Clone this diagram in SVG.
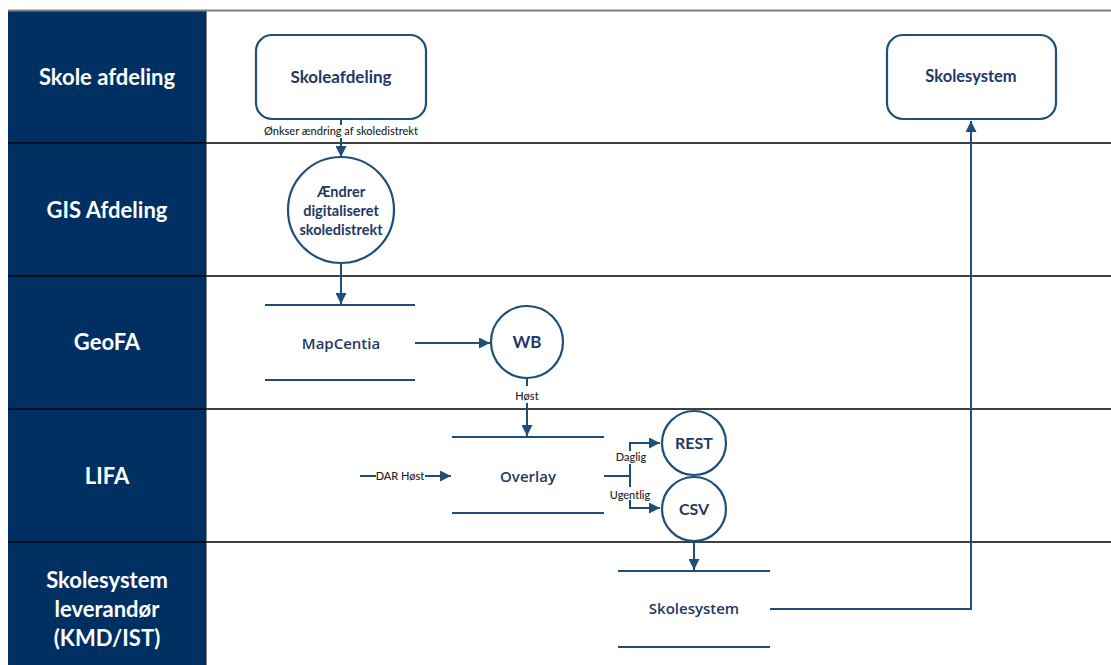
<svg xmlns="http://www.w3.org/2000/svg" width="1111" height="665" viewBox="0 0 1111 665">
<style>
.lane{fill:#003061}
.lt{font-family:Lato,"Liberation Sans",sans-serif;font-weight:bold;font-size:22px;fill:#ffffff;text-anchor:middle}
.sep{stroke:#000;stroke-width:1.5}
.shape{fill:#fff;stroke:#1f4e79;stroke-width:2.2}
.store{stroke:#1f4e79;stroke-width:2.2}
.nt{font-family:Lato,"Liberation Sans",sans-serif;font-weight:bold;fill:#1f3864;text-anchor:middle}
.st{font-family:"Open Sans","Liberation Sans",sans-serif;font-weight:600;fill:#1f3864;text-anchor:middle;font-size:15px}
.cl{font-family:Lato,"Liberation Sans",sans-serif;font-size:11px;font-weight:500;fill:#222;text-anchor:middle}
.conn{fill:none;stroke:#1f4e79;stroke-width:2}
</style>
<defs>
<marker id="ah" viewBox="0 0 10 10" refX="10" refY="5" markerWidth="5.5" markerHeight="5.5" orient="auto" markerUnits="strokeWidth">
<path d="M0,0 L10,5 L0,10 z" fill="#1f4e79"/>
</marker>
</defs>
<rect width="1111" height="665" fill="#fff"/>
<g id="lanes">
<rect class="lane" x="8" y="11" width="198" height="654"/>
<line x1="8" y1="10.5" x2="1111" y2="10.5" stroke="#808080" stroke-width="2"/>
<line class="sep" x1="8" y1="143" x2="1111" y2="143"/>
<line class="sep" x1="8" y1="276" x2="1111" y2="276"/>
<line class="sep" x1="8" y1="409" x2="1111" y2="409" stroke-width="2"/>
<line class="sep" x1="8" y1="542" x2="1111" y2="542"/>
<line x1="206" y1="11" x2="206" y2="665" stroke="#1a1a1a" stroke-width="1"/>
<text class="lt" x="107" y="85">Skole afdeling</text>
<text class="lt" x="107" y="218">GIS Afdeling</text>
<text class="lt" x="107" y="350">GeoFA</text>
<text class="lt" x="107" y="484">LIFA</text>
<text class="lt" x="107" y="588">Skolesystem</text>
<text class="lt" x="107" y="617">leverandør</text>
<text class="lt" x="107" y="646">(KMD/IST)</text>
</g>
<g id="connectors">
<line class="conn" x1="341" y1="120" x2="341" y2="125"/>
<text class="cl" x="341" y="135">Ønkser ændring af skoledistrekt</text>
<line class="conn" x1="341" y1="138" x2="341" y2="157" marker-end="url(#ah)"/>
<line class="conn" x1="341" y1="263" x2="341" y2="304" marker-end="url(#ah)"/>
<line class="conn" x1="415" y1="343" x2="490" y2="343" marker-end="url(#ah)"/>
<line class="conn" x1="527" y1="378" x2="527" y2="386"/>
<text class="cl" x="527" y="400">Høst</text>
<line class="conn" x1="527" y1="403" x2="527" y2="436" marker-end="url(#ah)"/>
<line class="conn" x1="360" y1="476" x2="376" y2="476"/>
<text class="cl" x="400" y="480">DAR Høst</text>
<line class="conn" x1="425" y1="476" x2="451" y2="476" marker-end="url(#ah)"/>
<line class="conn" x1="604" y1="476" x2="630" y2="476"/>
<polyline class="conn" points="630,451 630,443 660,443" marker-end="url(#ah)"/>
<line class="conn" x1="630" y1="464" x2="630" y2="487"/>
<polyline class="conn" points="630,500 630,508 660,508" marker-end="url(#ah)"/>
<text class="cl" x="631" y="461">Daglig</text>
<text class="cl" x="630" y="499">Ugentlig</text>
<line class="conn" x1="694" y1="541" x2="694" y2="570" marker-end="url(#ah)"/>
<polyline class="conn" points="770,609 971,609 971,121" marker-end="url(#ah)"/>
</g>
<g id="skoleafdeling">
<rect class="shape" x="256" y="35" width="170" height="84" rx="16"/>
<text class="nt" x="341" y="83" font-size="17">Skoleafdeling</text>
</g>
<g id="skolesystem-box">
<rect class="shape" x="887" y="35" width="169" height="84" rx="16"/>
<text class="nt" x="971" y="82" font-size="16.5">Skolesystem</text>
</g>
<g id="aendrer">
<circle class="shape" cx="341" cy="210" r="53"/>
<text class="nt" x="341" y="197" font-size="14.5">Ændrer</text>
<text class="nt" x="341" y="216" font-size="14.5">digitaliseret</text>
<text class="nt" x="341" y="235" font-size="14.5">skoledistrekt</text>
</g>
<g id="mapcentia">
<line class="store" x1="265" y1="305" x2="415" y2="305"/>
<line class="store" x1="265" y1="380" x2="415" y2="380"/>
<text class="st" x="341" y="349">MapCentia</text>
</g>
<g id="wb">
<circle class="shape" cx="527" cy="342" r="36"/>
<text class="nt" x="527" y="348" font-size="17">WB</text>
</g>
<g id="overlay">
<line class="store" x1="452" y1="437" x2="604" y2="437"/>
<line class="store" x1="452" y1="513" x2="604" y2="513"/>
<text class="st" x="528" y="482" font-size="16.5">Overlay</text>
</g>
<g id="rest">
<circle class="shape" cx="694" cy="443" r="32"/>
<text class="nt" x="694" y="449" font-size="16">REST</text>
</g>
<g id="csv">
<circle class="shape" cx="694" cy="509" r="32"/>
<text class="nt" x="694" y="515" font-size="16">CSV</text>
</g>
<g id="skolesystem-store">
<line class="store" x1="618" y1="571" x2="770" y2="571"/>
<line class="store" x1="618" y1="647" x2="770" y2="647"/>
<text class="st" x="694" y="614">Skolesystem</text>
</g>
</svg>
